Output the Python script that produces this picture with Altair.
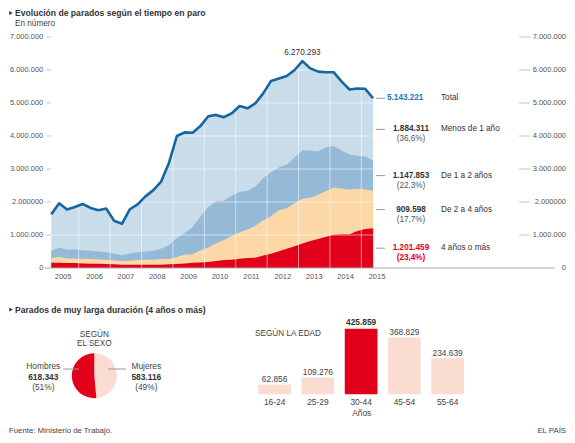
import altair as alt
import pandas as pd

FONT = "Liberation Sans"

# ---------------- data ----------------
quarters = [f"{y}T{q}" for y in range(2005, 2016) for q in range(1, 5)][:42]

total = [1.63, 1.96, 1.77, 1.85, 1.94, 1.82, 1.75, 1.80, 1.43, 1.34, 1.78, 1.93, 2.17, 2.36,
         2.62, 3.19, 4.00, 4.11, 4.10, 4.30, 4.60, 4.64, 4.57, 4.69, 4.91, 4.84, 4.99, 5.29,
         5.67, 5.74, 5.82, 6.00, 6.270293, 6.05, 5.95, 5.93, 5.93, 5.65, 5.41, 5.44, 5.43, 5.143221]
cum_blue = [0.52, 0.62, 0.55, 0.56, 0.54, 0.52, 0.50, 0.48, 0.43, 0.39, 0.44, 0.48, 0.50, 0.52,
            0.58, 0.70, 0.91, 1.06, 1.24, 1.55, 1.85, 2.03, 2.04, 2.20, 2.31, 2.34, 2.47, 2.72,
            2.90, 3.05, 3.14, 3.35, 3.56, 3.56, 3.53, 3.66, 3.70, 3.55, 3.44, 3.40, 3.38, 3.26]
cum_orange = [0.30, 0.33, 0.29, 0.28, 0.28, 0.27, 0.26, 0.25, 0.23, 0.21, 0.22, 0.24, 0.25, 0.25,
              0.27, 0.27, 0.33, 0.40, 0.42, 0.53, 0.62, 0.75, 0.85, 0.97, 1.08, 1.17, 1.28, 1.45,
              1.57, 1.75, 1.81, 1.96, 2.10, 2.13, 2.22, 2.33, 2.43, 2.41, 2.38, 2.40, 2.38, 2.34]
red = [0.16, 0.16, 0.15, 0.15, 0.14, 0.13, 0.13, 0.12, 0.11, 0.10, 0.10, 0.10, 0.10, 0.10,
       0.10, 0.11, 0.12, 0.14, 0.16, 0.17, 0.18, 0.21, 0.24, 0.25, 0.28, 0.30, 0.31, 0.38,
       0.43, 0.51, 0.58, 0.66, 0.74, 0.82, 0.88, 0.95, 1.01, 1.02, 1.02, 1.12, 1.18, 1.201459]

peak_label = "6.270.293"
total_label = "5.143.221"
band_names = ["Menos de 1 año", "De 1 a 2 años", "De 2 a 4 años", "4 años o más"]
band_values = ["1.884.311", "1.147.853", "909.598", "1.201.459"]
band_pcts = ["(36,6%)", "(22,3%)", "(17,7%)", "(23,4%)"]

axis_values = [0, 1, 2, 3, 4, 5, 6, 7]
axis_labels = ["0", "1.000.000", "2.000000", "3.000.000", "4.000.000",
               "5.000.000", "6.000.000", "7.000.000"]
years = list(range(2005, 2016))

sexo = ["Mujeres", "Hombres"]
sexo_values = [583116, 618343]
sexo_text = ["583.116", "618.343"]
sexo_pct = ["(49%)", "(51%)"]

edades = ["16-24", "25-29", "30-44", "45-54", "55-64"]
edad_values = [62856, 109276, 425859, 368829, 234639]
edad_text = ["62.856", "109.276", "425.859", "368.829", "234.639"]

# ---------------- colours ----------------
C_LIGHT = "#c9dcea"
C_MID = "#95bad7"
C_ORANGE = "#fbd8a6"
C_RED = "#e2001a"
C_LINE = "#15679f"
C_BLUE_TXT = "#1c78b8"
C_PEACH = "#fadcd1"
C_TXT = "#333333"
C_AX = "#555555"

# ---------------- tables ----------------
t = [int(q[:4]) + (int(q[-1]) - 1) * 0.25 + 0.125 for q in quarters]
df = pd.DataFrame({"t": t, "total": total, "cum_blue": cum_blue,
                   "cum_orange": cum_orange, "red": red})

X = alt.Scale(domain=[2005, 2016], range=[39.38, 384.7], nice=False, zero=False)
Y = alt.Scale(domain=[0, 7], range=[260, 29], nice=False, zero=True)

def xq(f):
    return alt.X(f, type="quantitative", scale=X, axis=None)

def yq(f):
    return alt.Y(f, type="quantitative", scale=Y, axis=None)

one = pd.DataFrame({"d": [0]})

def label(text, x, y, size=8, weight="normal", color=C_TXT, align="left"):
    return alt.Chart(one).mark_text(text=text, fontSize=size, fontWeight=weight, color=color,
                                    align=align, baseline="middle", font=FONT).encode(
        x=alt.value(x), y=alt.value(y))

layers = []

# stacked areas (drawn as cumulative tops)
for col, c in [("total", C_LIGHT), ("cum_blue", C_MID), ("cum_orange", C_ORANGE), ("red", C_RED)]:
    layers.append(alt.Chart(df).mark_area(color=c, opacity=1).encode(x=xq("t"), y=yq(col)))

# white grid lines over the areas
vgrid = pd.DataFrame({"yr": years[1:], "y0": 0, "y1": 7})
layers.append(alt.Chart(vgrid).mark_rule(color="white", strokeWidth=1, opacity=0.55).encode(
    x=xq("yr"), y=yq("y0"), y2="y1"))
hgrid = pd.DataFrame({"v": axis_values[1:], "x0": t[0], "x1": t[-1]})
layers.append(alt.Chart(hgrid).mark_rule(color="white", strokeWidth=1, opacity=0.55).encode(
    x=xq("x0"), x2="x1", y=yq("v")))

# total line
layers.append(alt.Chart(df).mark_line(color=C_LINE, strokeWidth=2.6, strokeJoin="round").encode(
    x=xq("t"), y=yq("total")))

# axes (manual)
ax = pd.DataFrame({"v": axis_values, "lab": axis_labels})
ax_nz = ax[ax.v > 0]
layers.append(alt.Chart(pd.DataFrame({"v": [0]})).mark_rule(color="#aaaaaa", strokeWidth=1).encode(
    y=yq("v"), x=alt.value(37), x2=alt.value(547)))
layers.append(alt.Chart(ax_nz).mark_rule(color="#c8c8c8", strokeWidth=1).encode(
    y=yq("v"), x=alt.value(38.5), x2=alt.value(43)))
layers.append(alt.Chart(ax_nz).mark_rule(color="#c8c8c8", strokeWidth=1).encode(
    y=yq("v"), x=alt.value(511), x2=alt.value(522)))
layers.append(alt.Chart(ax).mark_text(align="right", baseline="middle", fontSize=7.5,
                                       color=C_AX, font=FONT).encode(
    y=yq("v"), x=alt.value(35.3), text="lab:N"))
layers.append(alt.Chart(ax).mark_text(align="right", baseline="middle", fontSize=7.5,
                                       color=C_AX, font=FONT).encode(
    y=yq("v"), x=alt.value(558), text="lab:N"))
yl = pd.DataFrame({"ym": [y + 0.5 for y in years], "lab": [str(y) for y in years]})
layers.append(alt.Chart(yl).mark_text(align="center", baseline="middle", fontSize=7.5,
                                       color=C_AX, font=FONT).encode(
    x=xq("ym"), y=alt.value(268.5), text="lab:N"))

# peak label
ip = total.index(max(total))
layers.append(alt.Chart(pd.DataFrame({"t": [t[ip]], "v": [total[ip]], "lab": [peak_label]}))
              .mark_text(align="center", baseline="middle", fontSize=8.2, color=C_TXT, font=FONT, dy=-8)
              .encode(x=xq("t"), y=yq("v"), text="lab:N"))

# right annotations
mids = [(cum_blue[-1] + total[-1]) / 2, (cum_orange[-1] + cum_blue[-1]) / 2,
        (red[-1] + cum_orange[-1]) / 2, red[-1] / 2]
ann = pd.DataFrame({"v": mids, "num": band_values, "pct": band_pcts, "name": band_names,
                    "col": [C_TXT, C_TXT, C_TXT, C_RED],
                    "pcol": ["#555555", "#555555", "#555555", C_RED],
                    "pw": ["normal", "normal", "normal", "bold"]})
tot = pd.DataFrame({"v": [total[-1]], "num": [total_label], "name": ["Total"]})
allrows = pd.concat([tot[["v", "name"]], ann[["v", "name"]]])
layers.append(alt.Chart(allrows).mark_rule(color="#999999", strokeWidth=1).encode(
    y=yq("v"), x=alt.value(368), x2=alt.value(377)))
layers.append(alt.Chart(tot).mark_text(align="left", baseline="middle", fontSize=8.2,
                                        fontWeight="bold", color=C_BLUE_TXT, font=FONT).encode(
    y=yq("v"), x=alt.value(379), text="num:N"))
layers.append(alt.Chart(ann).mark_text(align="center", baseline="middle", fontSize=8.2,
                                        fontWeight="bold", font=FONT).encode(
    y=yq("v"), x=alt.value(403), text="num:N", color=alt.Color("col:N", scale=None)))
layers.append(alt.Chart(ann[ann.pw == "normal"]).mark_text(align="center", baseline="middle", fontSize=8.2,
                                                          font=FONT, dy=10).encode(
    y=yq("v"), x=alt.value(403), text="pct:N", color=alt.Color("pcol:N", scale=None)))
layers.append(alt.Chart(ann[ann.pw == "bold"]).mark_text(align="center", baseline="middle", fontSize=8.2,
                                                        fontWeight="bold", font=FONT, dy=10).encode(
    y=yq("v"), x=alt.value(403), text="pct:N", color=alt.Color("pcol:N", scale=None)))
layers.append(alt.Chart(allrows).mark_text(align="left", baseline="middle", fontSize=8.2,
                                            color=C_TXT, font=FONT).encode(
    y=yq("v"), x=alt.value(433), text="name:N"))

# titles
layers.append(alt.Chart(one).mark_point(shape="triangle-right", filled=True, size=16,
                                         color="#333333", opacity=1).encode(
    x=alt.value(3), y=alt.value(5)))
layers.append(label("Evolución de parados según el tiempo en paro", 7, 5, size=8.6, weight="bold"))
layers.append(label("En número", 7, 16, size=8.2, color="#444444"))

# ---------------- bottom: sex pie ----------------
layers.append(alt.Chart(one).mark_point(shape="triangle-right", filled=True, size=16,
                                         color="#333333", opacity=1).encode(
    x=alt.value(3), y=alt.value(301.5)))
layers.append(label("Parados de muy larga duración (4 años o más)", 7, 301.5, size=8.6, weight="bold"))
layers.append(label("SEGÚN", 86.3, 327, size=8.2, color="#444444", align="center"))
layers.append(label("EL SEXO", 86.3, 336.3, size=8.2, color="#444444", align="center"))

pie = pd.DataFrame({"sexo": sexo, "v": sexo_values, "ord": [0, 1], "col": [C_PEACH, C_RED]})
layers.append(alt.Chart(pie).mark_arc(radius=22.5).encode(
    theta=alt.Theta("v:Q", stack=True),
    order=alt.Order("ord:Q"),
    color=alt.Color("col:N", scale=None),
    x=alt.value(86.3), y=alt.value(367.7)))
layers.append(alt.Chart(one).mark_rule(color="#999999", strokeWidth=1).encode(
    x=alt.value(55.3), x2=alt.value(71), y=alt.value(361)))
layers.append(alt.Chart(one).mark_rule(color="#999999", strokeWidth=1).encode(
    x=alt.value(100), x2=alt.value(118), y=alt.value(361)))
for i, cx in [(1, 35.3), (0, 138.3)]:
    layers.append(label(sexo[i], cx, 358, size=8.4, color="#444444", align="center"))
    layers.append(label(sexo_text[i], cx, 368.5, size=8.4, weight="bold", color=C_TXT, align="center"))
    layers.append(label(sexo_pct[i], cx, 379.3, size=8.4, color="#444444", align="center"))

# ---------------- bottom: age bars ----------------
BX = alt.Scale(domain=edades, range=[245, 461.25], paddingInner=0.244, paddingOuter=0.122)
BY = alt.Scale(domain=[0, 500000], range=[386.3, 309.3], nice=False, zero=True)
bars = pd.DataFrame({"edad": edades, "v": edad_values, "lab": edad_text,
                     "col": [C_RED if v == max(edad_values) else C_PEACH for v in edad_values]})
layers.append(alt.Chart(bars).mark_bar().encode(
    x=alt.X("edad:N", scale=BX, axis=None),
    y=alt.Y("v:Q", scale=BY, axis=None),
    color=alt.Color("col:N", scale=None)))
top = bars[bars.v == max(edad_values)]
rest = bars[bars.v != max(edad_values)]
layers.append(alt.Chart(rest).mark_text(align="center", baseline="middle", fontSize=8.4,
                                         color="#444444", font=FONT, dy=-5.5).encode(
    x=alt.X("edad:N", scale=BX, axis=None), y=alt.Y("v:Q", scale=BY, axis=None), text="lab:N"))
layers.append(alt.Chart(top).mark_text(align="center", baseline="middle", fontSize=8.4,
                                        fontWeight="bold", color=C_TXT, font=FONT, dy=-7).encode(
    x=alt.X("edad:N", scale=BX, axis=None), y=alt.Y("v:Q", scale=BY, axis=None), text="lab:N"))
layers.append(alt.Chart(bars).mark_text(align="center", baseline="middle", fontSize=8.4,
                                         color="#444444", font=FONT).encode(
    x=alt.X("edad:N", scale=BX, axis=None), y=alt.value(393.7), text="edad:N"))
layers.append(label("Años", 353.7, 405.3, size=8.4, color="#444444", align="center"))
layers.append(label("SEGÚN LA EDAD", 247, 326, size=8.2, color="#444444"))

# footer
layers.append(label("Fuente: Ministerio de Trabajo.", 1, 422.5, size=7.8, color="#444444"))
layers.append(label("EL PAÍS", 558, 422.5, size=7.8, color="#444444", align="right"))

chart = alt.layer(*layers).resolve_scale(
    x="independent", y="independent", color="independent"
).properties(
    width=559, height=427, padding=0,
    autosize=alt.AutoSizeParams(type="none"),
).configure_view(stroke=None)

chart.save("out.html", embed_options={"renderer": "svg", "actions": False})
